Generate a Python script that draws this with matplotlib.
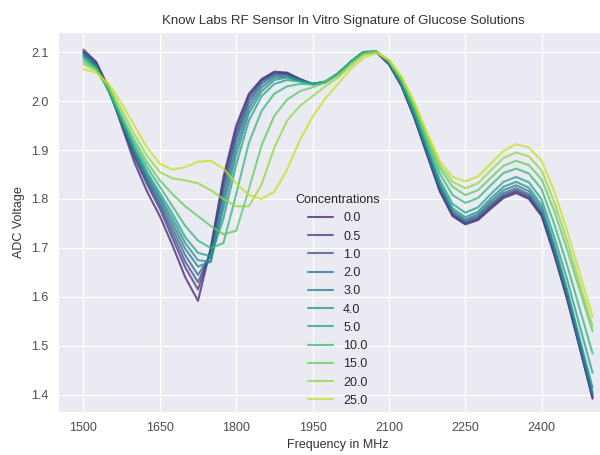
import matplotlib
matplotlib.use("Agg")
import matplotlib.pyplot as plt
import seaborn as sns

# frequency grid (MHz), one reading every 25 MHz
freq = list(range(1500, 2501, 25))

concentrations = ["0.0", "0.5", "1.0", "2.0", "3.0", "4.0", "5.0", "10.0", "15.0", "20.0", "25.0"]

v_00 = [2.105, 2.080, 2.025, 1.950, 1.875, 1.815, 1.765, 1.705, 1.640, 1.592,
        1.700, 1.845, 1.950, 2.015, 2.045, 2.060, 2.058, 2.045, 2.034, 2.038,
        2.055, 2.080, 2.100, 2.100, 2.075, 2.030, 1.965, 1.890, 1.815, 1.765,
        1.748, 1.757, 1.780, 1.802, 1.812, 1.800, 1.765, 1.685, 1.595, 1.495,
        1.392]
v_05 = [2.100, 2.078, 2.025, 1.955, 1.885, 1.830, 1.780, 1.720, 1.660, 1.615,
        1.695, 1.835, 1.940, 2.010, 2.043, 2.058, 2.057, 2.045, 2.035, 2.039,
        2.056, 2.080, 2.100, 2.100, 2.076, 2.031, 1.967, 1.892, 1.818, 1.767,
        1.750, 1.759, 1.783, 1.805, 1.815, 1.803, 1.768, 1.688, 1.598, 1.497,
        1.395]
v_10 = [2.100, 2.075, 2.022, 1.955, 1.890, 1.835, 1.787, 1.730, 1.672, 1.630,
        1.690, 1.825, 1.930, 2.003, 2.040, 2.055, 2.055, 2.044, 2.035, 2.039,
        2.056, 2.080, 2.100, 2.100, 2.077, 2.032, 1.968, 1.894, 1.820, 1.769,
        1.752, 1.762, 1.786, 1.808, 1.818, 1.806, 1.770, 1.690, 1.600, 1.499,
        1.398]
v_20 = [2.098, 2.073, 2.020, 1.955, 1.893, 1.840, 1.793, 1.740, 1.685, 1.645,
        1.685, 1.810, 1.920, 1.995, 2.035, 2.052, 2.053, 2.043, 2.035, 2.039,
        2.056, 2.080, 2.100, 2.101, 2.078, 2.033, 1.970, 1.896, 1.823, 1.772,
        1.755, 1.765, 1.790, 1.812, 1.822, 1.810, 1.774, 1.694, 1.603, 1.502,
        1.400]
v_30 = [2.095, 2.072, 2.020, 1.957, 1.897, 1.845, 1.800, 1.750, 1.698, 1.662,
        1.672, 1.795, 1.905, 1.985, 2.028, 2.048, 2.050, 2.042, 2.035, 2.039,
        2.056, 2.080, 2.100, 2.101, 2.079, 2.034, 1.972, 1.899, 1.827, 1.776,
        1.758, 1.769, 1.795, 1.818, 1.828, 1.816, 1.780, 1.700, 1.608, 1.506,
        1.405]
v_40 = [2.092, 2.070, 2.020, 1.960, 1.900, 1.850, 1.805, 1.760, 1.710, 1.675,
        1.672, 1.780, 1.890, 1.975, 2.020, 2.043, 2.048, 2.041, 2.035, 2.039,
        2.056, 2.080, 2.100, 2.101, 2.080, 2.036, 1.975, 1.903, 1.832, 1.781,
        1.763, 1.774, 1.801, 1.825, 1.835, 1.823, 1.787, 1.707, 1.616, 1.514,
        1.415]
v_50 = [2.090, 2.068, 2.020, 1.962, 1.905, 1.855, 1.812, 1.770, 1.722, 1.690,
        1.683, 1.760, 1.870, 1.960, 2.010, 2.035, 2.043, 2.040, 2.035, 2.040,
        2.056, 2.080, 2.100, 2.101, 2.080, 2.038, 1.979, 1.908, 1.839, 1.790,
        1.772, 1.783, 1.810, 1.835, 1.845, 1.834, 1.799, 1.722, 1.636, 1.540,
        1.445]
v_100 = [2.085, 2.066, 2.022, 1.966, 1.912, 1.865, 1.825, 1.785, 1.745, 1.715,
         1.700, 1.710, 1.810, 1.915, 1.980, 2.015, 2.030, 2.035, 2.034, 2.040,
         2.055, 2.079, 2.099, 2.101, 2.081, 2.041, 1.985, 1.917, 1.852, 1.808,
         1.792, 1.802, 1.828, 1.853, 1.862, 1.852, 1.820, 1.748, 1.665, 1.575,
         1.485]
v_150 = [2.080, 2.064, 2.025, 1.972, 1.920, 1.875, 1.838, 1.810, 1.785, 1.765,
         1.745, 1.728, 1.735, 1.820, 1.910, 1.970, 2.003, 2.020, 2.028, 2.038,
         2.053, 2.077, 2.097, 2.101, 2.082, 2.044, 1.990, 1.925, 1.863, 1.825,
         1.808, 1.818, 1.843, 1.868, 1.878, 1.869, 1.840, 1.775, 1.697, 1.613,
         1.530]
v_200 = [2.075, 2.062, 2.030, 1.982, 1.932, 1.888, 1.855, 1.842, 1.838, 1.832,
         1.818, 1.800, 1.785, 1.785, 1.830, 1.905, 1.960, 1.990, 2.010, 2.030,
         2.048, 2.072, 2.094, 2.100, 2.083, 2.047, 1.994, 1.930, 1.870, 1.835,
         1.822, 1.832, 1.858, 1.884, 1.895, 1.887, 1.858, 1.793, 1.714, 1.627,
         1.540]
v_250 = [2.065, 2.058, 2.035, 1.995, 1.950, 1.905, 1.872, 1.860, 1.865, 1.876,
         1.878, 1.862, 1.832, 1.808, 1.800, 1.815, 1.860, 1.920, 1.968, 2.005,
         2.035, 2.065, 2.088, 2.098, 2.085, 2.050, 1.998, 1.935, 1.877, 1.845,
         1.836, 1.846, 1.872, 1.898, 1.912, 1.905, 1.878, 1.815, 1.735, 1.648,
         1.560]

series = [v_00, v_05, v_10, v_20, v_30, v_40, v_50, v_100, v_150, v_200, v_250]

sns.set_style("darkgrid")
plt.rcParams["font.family"] = ["Liberation Sans", "DejaVu Sans"]

fig = plt.figure(figsize=(6, 4.55), dpi=100)
# axes runs off the right edge, the source picture is cropped there
ax = fig.add_axes([58 / 600, 43 / 455, 560 / 600, 380 / 455])

colors = sns.color_palette("viridis", len(series))
for lab, vals, col in zip(concentrations, series, colors):
    ax.plot(freq, vals, color=col, lw=1.5, alpha=0.75, label=lab)

ax.set_xlim(1450, 2550)
ax.set_ylim(1.365, 2.141)
ax.set_xticks([1500, 1650, 1800, 1950, 2100, 2250, 2400])
ax.set_yticks([1.4, 1.5, 1.6, 1.7, 1.8, 1.9, 2.0, 2.1])
ax.tick_params(labelsize=9, colors=".3")

ax.set_title("Know Labs RF Sensor In Vitro Signature of Glucose Solutions",
             fontsize=9.5, color=".2", x=0.51)
ax.set_xlabel("Frequency in MHz", fontsize=9, color=".2")
ax.set_ylabel("ADC Voltage", fontsize=9, color=".2")

leg = ax.legend(title="Concentrations", loc="upper left", bbox_to_anchor=(0.404, 0.603),
                frameon=False, fontsize=9, title_fontsize=9, labelspacing=0.5)

fig.savefig("out.png", dpi=100)
